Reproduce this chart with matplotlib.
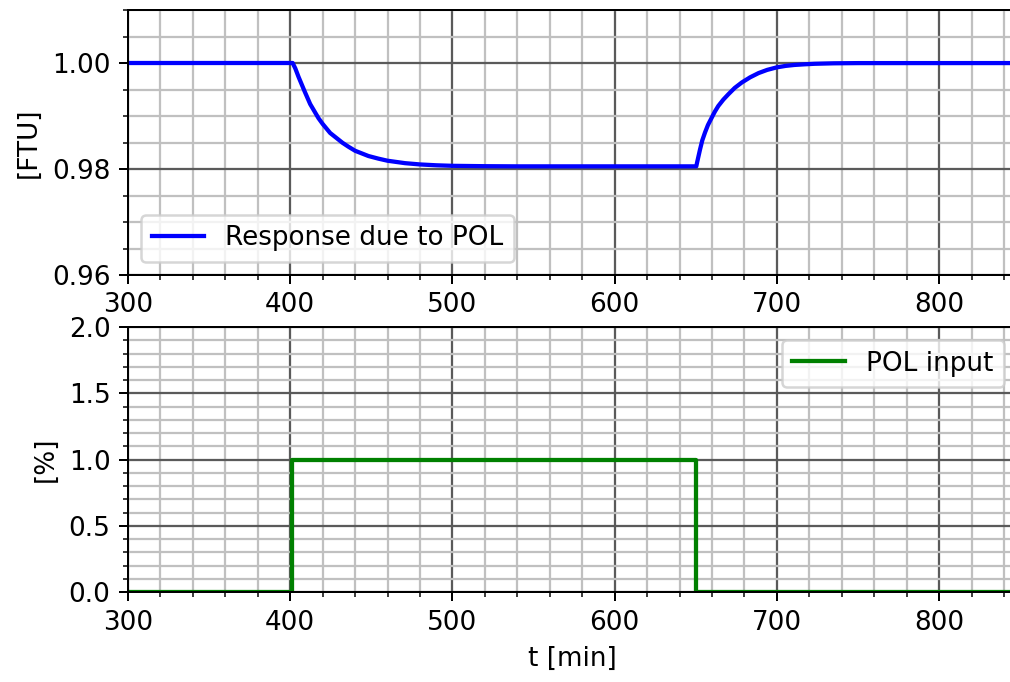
import numpy as np
import matplotlib
matplotlib.use('Agg')
import matplotlib.pyplot as plt
from matplotlib.ticker import MultipleLocator

# values
t_resp = [300, 401.5, 403.1, 405.1, 408.8, 412.3, 417.4, 420.0, 424.6, 432.2, 435.9, 440.0,
          448.2, 454.4, 460.0, 470.8, 480.0, 490.0, 500.0, 520, 540,
          650.3, 651.0, 652.6, 654.0, 655.7, 657.5, 659.8, 661.8, 663.9, 667.0, 670.1,
          674.0, 678.4, 683.5, 688.7, 694.0, 700, 705.3, 710.7, 716.9, 723.1, 735, 750, 1000]
y_resp = [1.0, 1.0, 0.99900, 0.99740, 0.99470, 0.99225, 0.98960, 0.98850, 0.98680, 0.98495,
          0.98420, 0.98344, 0.98245, 0.98195, 0.98156, 0.98110, 0.98086, 0.98070, 0.98060,
          0.98053, 0.98050,
          0.98050, 0.98150, 0.98367, 0.98540, 0.98690, 0.98830, 0.98968, 0.99085, 0.99190,
          0.99310, 0.99411, 0.99530, 0.99633, 0.99730, 0.99810, 0.99870, 0.99918, 0.99945,
          0.99963, 0.99975, 0.99985, 0.99994, 0.99998, 1.0]

t_pol = [300, 401, 401, 650, 650, 1000]
u_pol = [0, 0, 1, 1, 0, 0]

# figure scaled so default sizes match the reference
DPI = 180
plt.rcParams.update({'figure.dpi': DPI, 'savefig.dpi': DPI, 'font.size': 10.5})
fig = plt.figure(figsize=(1011 / DPI, 682 / DPI))

W, H = 1011, 682
left = 128 / W
width = (1017 - 128) / W
height = 265 / H
ax1 = fig.add_axes([left, 1 - 275 / H, width, height])
ax2 = fig.add_axes([left, 1 - 592 / H, width, height])

ax1.plot(t_resp, y_resp, 'b', lw=1.7, label='Response due to POL')
ax1.set_ylim(0.96, 1.01)
ax1.yaxis.set_major_locator(MultipleLocator(0.02))
ax1.yaxis.set_minor_locator(MultipleLocator(0.005))
ax1.set_ylabel('[FTU]')
ax1.legend(loc='lower left')

ax2.plot(t_pol, u_pol, 'g', lw=1.7, label='POL input')
ax2.set_ylim(0, 2.0)
ax2.yaxis.set_major_locator(MultipleLocator(0.5))
ax2.yaxis.set_minor_locator(MultipleLocator(0.1))
ax2.set_ylabel('[%]')
ax2.set_xlabel('t [min]')
ax2.legend(loc='upper right')

for ax in (ax1, ax2):
    ax.set_xlim(300, 848)
    ax.xaxis.set_major_locator(MultipleLocator(100))
    ax.xaxis.set_minor_locator(MultipleLocator(20))
    ax.grid(which='major', color='#5a5a5a', linewidth=0.9)
    ax.grid(which='minor', color='#c0c0c0', linewidth=0.9)
    ax.set_axisbelow(True)

fig.savefig('out.png', dpi=DPI)
